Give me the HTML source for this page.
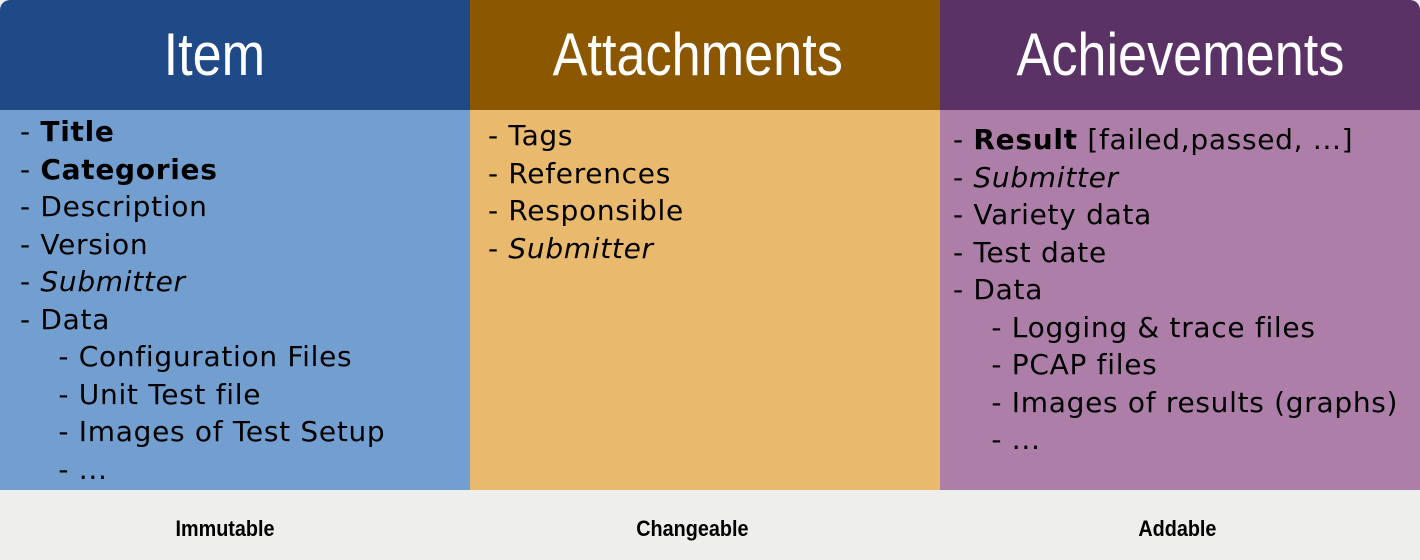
<!DOCTYPE html>
<html><head><style>
body{margin:0;width:1420px;height:560px;background:#eeeeec;position:relative;overflow:hidden;font-family:"DejaVu Sans","Liberation Sans",sans-serif}
.h{position:absolute;top:0;height:110px;color:#fff;font-family:"Liberation Sans",sans-serif;font-size:60px;line-height:110px;text-align:center}
.h span{display:inline-block;transform:scaleX(0.87)}
.b{position:absolute;top:110px;height:380px}
.t{position:absolute;font-size:28px;letter-spacing:0.7px;line-height:37.5px;color:#000;white-space:pre}
.f{position:absolute;top:516px;font-family:"Liberation Sans",sans-serif;font-weight:bold;font-size:22px;text-align:center;width:300px}
.f span{display:inline-block;transform:scaleX(0.9)}
i{font-style:italic}
</style></head><body>
<div class="h" style="left:0;width:470px;background:#1f4a87;border-top-left-radius:10px"></div>
<div class="h" style="left:0;width:428px"><span>Item</span></div>
<div class="h" style="left:470px;width:456px;padding-right:14px;background:#8b5700"><span>Attachments</span></div>
<div class="h" style="left:940px;width:480px;background:#5b3266;border-top-right-radius:10px"><span>Achievements</span></div>
<div class="b" style="left:0;width:470px;background:#729fcf"></div>
<div class="b" style="left:470px;width:470px;background:#e9b96e"></div>
<div class="b" style="left:940px;width:480px;background:#ad7fa8"></div>
<div class="t" style="left:20px;top:113px">- <b>Title</b>
- <b>Categories</b>
- Description
- Version
- <i>Submitter</i>
- Data
    - Configuration Files
    - Unit Test file
    - Images of Test Setup
    - ...</div>
<div class="t" style="left:488px;top:117px">- Tags
- References
- Responsible
- <i>Submitter</i></div>
<div class="t" style="left:953px;top:121px">- <b>Result</b> [failed,passed, ...]
- <i>Submitter</i>
- Variety data
- Test date
- Data
    - Logging &amp; trace files
    - PCAP files
    - Images of results (graphs)
    - ...</div>
<div class="f" style="left:75px"><span>Immutable</span></div>
<div class="f" style="left:542px"><span>Changeable</span></div>
<div class="f" style="left:1027px"><span>Addable</span></div>
</body></html>
